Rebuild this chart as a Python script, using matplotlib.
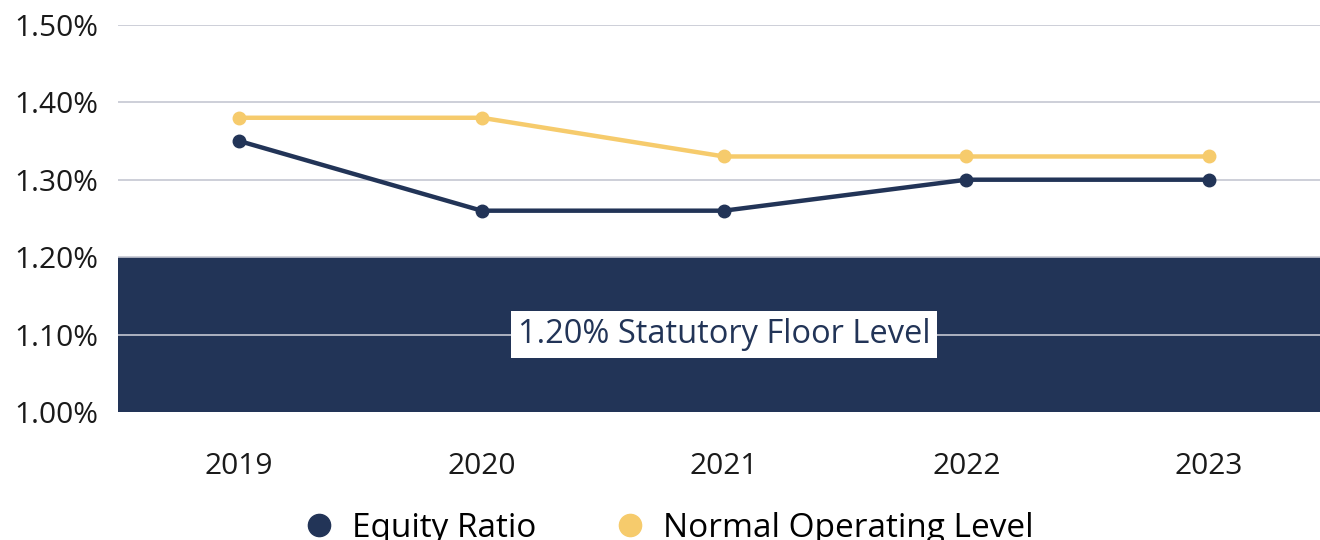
import matplotlib
matplotlib.use("Agg")
import matplotlib.pyplot as plt
from matplotlib.lines import Line2D
from matplotlib.ticker import PercentFormatter

years = ["2019", "2020", "2021", "2022", "2023"]
equity_ratio = [1.35, 1.26, 1.26, 1.30, 1.30]
normal_level = [1.38, 1.38, 1.33, 1.33, 1.33]
floor_level = 1.20
y_ticks = [1.00, 1.10, 1.20, 1.30, 1.40, 1.50]

navy = "#223457"
gold = "#F6CB6C"
grid_col = "#C5C7D2"

plt.rcParams["font.family"] = ["Open Sans", "DejaVu Sans"]

fig = plt.figure(figsize=(13.2, 5.4), dpi=100)
ax = fig.add_axes([0.0894, 0.237, 0.9182, 0.717])

x = range(len(years))
ax.axhspan(1.00, floor_level, color=navy, zorder=1, lw=0)
for t in y_ticks[1:]:
    ax.axhline(t, color=grid_col, lw=1.2, zorder=2)

ax.plot(x, normal_level, color=gold, lw=3.2, marker="o", ms=9, zorder=4)
ax.plot(x, equity_ratio, color=navy, lw=3.2, marker="o", ms=9, zorder=5)

ax.text(2, 1.10, "1.20% Statutory Floor Level", ha="center", va="center",
        fontsize=23.5, color=navy, zorder=6,
        bbox=dict(facecolor="white", edgecolor="none", pad=5))

ax.set_xlim(-0.5, 4.5)
ax.set_ylim(1.00, 1.50)
ax.set_xticks(list(x))
ax.set_xticklabels(years)
ax.set_yticks(y_ticks)
ax.yaxis.set_major_formatter(PercentFormatter(decimals=2))
ax.tick_params(axis="both", length=0, labelsize=21.5, colors="#1a1a1a")
ax.tick_params(axis="y", pad=14)
ax.tick_params(axis="x", pad=29)
for s in ax.spines.values():
    s.set_visible(False)

handles = [
    Line2D([], [], ls="none", marker="o", ms=16, color=navy),
    Line2D([], [], ls="none", marker="o", ms=16, color=gold),
]
fig.legend(handles, ["Equity Ratio", "Normal Operating Level"], loc="center",
           bbox_to_anchor=(0.506, 0.022), ncol=2, frameon=False, fontsize=24,
           handletextpad=0.5, columnspacing=2.3, handlelength=1.0)

fig.savefig("out.png", dpi=100)
